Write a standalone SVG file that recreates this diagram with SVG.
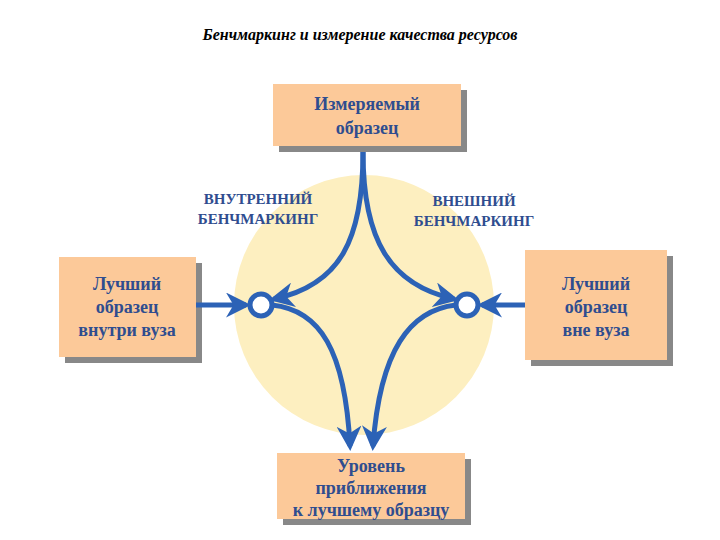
<svg xmlns="http://www.w3.org/2000/svg" width="720" height="540" viewBox="0 0 720 540">
<style>
.t{font-family:'Liberation Serif','Times New Roman','DejaVu Serif',serif;font-weight:bold;fill:#2f4d8f;font-size:18px;text-anchor:middle}
.h{font-family:'Liberation Serif','Times New Roman','DejaVu Serif',serif;font-weight:bold;font-style:italic;font-size:16px;fill:#000;text-anchor:middle}
.lb{font-family:'Liberation Serif','Times New Roman','DejaVu Serif',serif;font-weight:bold;fill:#2f4d8f;font-size:15px;text-anchor:middle}
.box{fill:#fcc999}
.sh{fill:#888}
.c{fill:none;stroke:#2c62b6;stroke-width:5}
</style>
<defs>
<marker id="a" viewBox="0 0 10 10" refX="8" refY="5" markerWidth="5" markerHeight="5" orient="auto" markerUnits="strokeWidth"><path d="M0,0L10,5L0,10L3,5z" fill="#2c62b6"/></marker>
</defs>
<rect width="720" height="540" fill="#fff"/>
<text class="h" x="360" y="40">Бенчмаркинг и  измерение  качества  ресурсов</text>
<circle cx="364" cy="305" r="130" fill="#fdefc0"/>
<text class="lb" x="258" y="204">ВНУТРЕННИЙ</text>
<text class="lb" x="258" y="224">БЕНЧМАРКИНГ</text>
<text class="lb" x="474" y="206">ВНЕШНИЙ</text>
<text class="lb" x="474" y="226">БЕНЧМАРКИНГ</text>
<g id="top"><rect class="sh" x="279" y="90" width="188" height="62"/><rect class="box" x="273" y="84" width="188" height="62"/>
<text class="t" x="367" y="110">Измеряемый</text><text class="t" x="367" y="134">образец</text></g>
<g id="left"><rect class="sh" x="65" y="263" width="137" height="100"/><rect class="box" x="59" y="257" width="137" height="100"/>
<text class="t" x="127" y="290">Лучший</text><text class="t" x="127" y="313">образец</text><text class="t" x="127" y="336">внутри вуза</text></g>
<g id="right"><rect class="sh" x="531" y="256" width="142" height="110"/><rect class="box" x="525" y="250" width="142" height="110"/>
<text class="t" x="596" y="290">Лучший</text><text class="t" x="596" y="313">образец</text><text class="t" x="596" y="336">вне вуза</text></g>
<g id="bottom"><rect class="sh" x="283" y="459" width="188" height="66"/><rect class="box" x="277" y="453" width="188" height="66"/>
<text class="t" x="371" y="472">Уровень</text><text class="t" x="371" y="494">приближения</text><text class="t" x="371" y="516">к лучшему образцу</text></g>
<g id="connectors">
<path class="c" d="M363,152 C363,240 340,285 274,299" marker-end="url(#a)"/>
<path class="c" d="M363,152 C363,240 390,285 454,299" marker-end="url(#a)"/>
<path class="c" d="M196,305 L246,305" marker-end="url(#a)"/>
<path class="c" d="M525,305 L482,305" marker-end="url(#a)"/>
<path class="c" d="M272,305 C320,310 345,350 350,446" marker-end="url(#a)"/>
<path class="c" d="M456,305 C410,310 380,350 373,446" marker-end="url(#a)"/>
<circle cx="261" cy="305" r="11" fill="#fff" stroke="#2c62b6" stroke-width="5"/>
<circle cx="467" cy="305" r="11" fill="#fff" stroke="#2c62b6" stroke-width="5"/>
</g>
</svg>
